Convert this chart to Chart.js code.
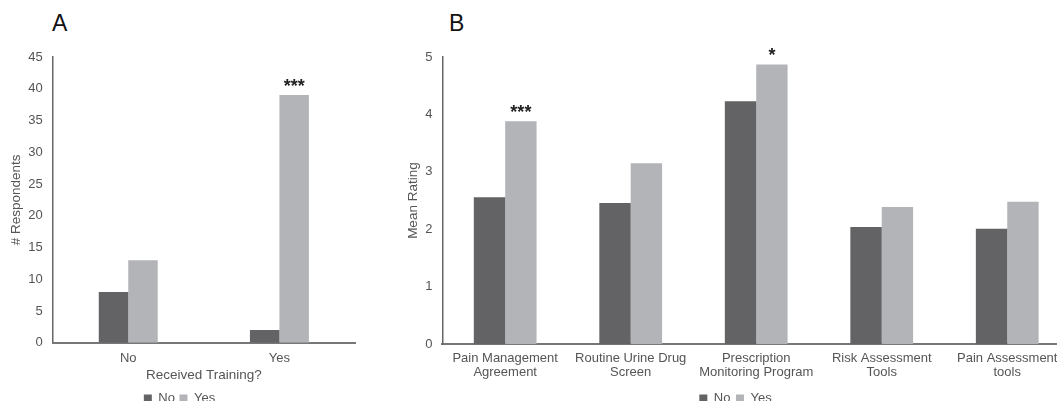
<!DOCTYPE html>
<html lang="en">
<head>
  <meta charset="UTF-8">
  <title>Training and tool ratings</title>
  <script src="https://cdn.jsdelivr.net/npm/chart.js@4/dist/chart.umd.min.js"></script>
  <style>
    html, body { margin: 0; padding: 0; background: #fff; overflow: hidden; width: 1057px; height: 401px; }
    .panel { position: absolute; top: 0; }
    .tag { position: absolute; top: 12px; font: 23px "Liberation Sans", Arial, sans-serif; line-height: 23px; color: #111; }
  </style>
</head>
<body>
  <div class="tag" style="left:52px">A</div>
  <div class="tag" style="left:449px">B</div>
  <canvas id="chartA" class="panel" style="left:0" width="392" height="415"></canvas>
  <canvas id="chartB" class="panel" style="left:380px" width="722" height="415"></canvas>
  <script>
    // Panel A: respondents by training
    const trainingLabels = ['No', 'Yes'];
    const trainingNo = [8, 2];
    const trainingYes = [13, 39];
    const trainingStars = [null, '***'];

    // Panel B: mean rating of each tool
    const toolLabels = [
      ['Pain Management', 'Agreement'],
      ['Routine Urine Drug', 'Screen'],
      ['Prescription', 'Monitoring Program'],
      ['Risk Assessment', 'Tools'],
      ['Pain Assessment', 'tools']
    ];
    const ratingNo = [2.56, 2.46, 4.23, 2.04, 2.01];
    const ratingYes = [3.88, 3.15, 4.87, 2.39, 2.48];
    const ratingStars = ['***', null, '*', null, null];

    const seriesNames = ['No', 'Yes'];
    const darkGrey = '#636366';
    const lightGrey = '#b3b4b8';
    const textGrey = '#555555';
    const fontFamily = '"Liberation Sans", Arial, sans-serif';

    // draw significance stars above the "Yes" bars
    const starsPlugin = {
      id: 'stars',
      afterDatasetsDraw(chart, args, opts) {
        const meta = chart.getDatasetMeta(1);
        const ctx = chart.ctx;
        ctx.save();
        ctx.font = 'bold 18px ' + fontFamily;
        ctx.fillStyle = '#222';
        ctx.textAlign = 'center';
        ctx.textBaseline = 'alphabetic';
        opts.marks.forEach((m, i) => {
          if (!m) return;
          const bar = meta.data[i];
          ctx.fillText(m, bar.x, bar.y - 3);
        });
        ctx.restore();
      }
    };

    function makeChart(id, labels, noVals, yesVals, stars, cfg) {
      return new Chart(document.getElementById(id), {
        type: 'bar',
        data: {
          labels: labels,
          datasets: [
            { label: seriesNames[0], data: noVals, backgroundColor: darkGrey,
              categoryPercentage: cfg.groupWidth, barPercentage: 1 },
            { label: seriesNames[1], data: yesVals, backgroundColor: lightGrey,
              categoryPercentage: cfg.groupWidth, barPercentage: 1 }
          ]
        },
        plugins: [starsPlugin],
        options: {
          responsive: false,
          animation: false,
          layout: { padding: cfg.padding },
          scales: {
            x: {
              grid: { display: false, drawTicks: false },
              border: { color: '#777', width: 2 },
              ticks: { color: textGrey, padding: cfg.tickPad, maxRotation: 0, autoSkip: false,
                font: { family: fontFamily, size: 13, lineHeight: cfg.tickLineHeight } },
              title: { display: !!cfg.xTitle, text: cfg.xTitle, color: textGrey,
                padding: { top: -7, bottom: 4 },
                font: { family: fontFamily, size: 13.5 } }
            },
            y: {
              min: 0, max: cfg.yMax,
              grid: { display: false, drawTicks: false },
              border: { color: '#666', width: 1.5 },
              ticks: { stepSize: cfg.yStep, color: textGrey, padding: 10,
                font: { family: fontFamily, size: 13 } },
              title: { display: true, text: cfg.yTitle, color: textGrey,
                padding: { top: 4, bottom: -6 },
                font: { family: fontFamily, size: 13.5 } }
            }
          },
          plugins: {
            stars: { marks: stars },
            tooltip: { enabled: false },
            legend: {
              position: 'bottom',
              labels: { boxWidth: 8, boxHeight: 8, padding: cfg.legendPad, color: textGrey,
                font: { family: fontFamily, size: 13 } }
            }
          }
        }
      });
    }

    makeChart('chartA', trainingLabels, trainingNo, trainingYes, trainingStars, {
      groupWidth: 0.39, yMax: 45, yStep: 5, yTitle: '# Respondents',
      xTitle: 'Received Training?', tickLineHeight: 1.2, tickPad: 8, legendPad: 4.5,
      padding: { top: 57, left: 4, right: 37, bottom: 0 }
    });

    makeChart('chartB', toolLabels, ratingNo, ratingYes, ratingStars, {
      groupWidth: 0.5, yMax: 5, yStep: 1, yTitle: 'Mean Rating',
      xTitle: '', tickLineHeight: 1.05, tickPad: 7.5, legendPad: 5.5,
      padding: { top: 57, left: 21, right: 32, bottom: 0 }
    });
  </script>
</body>
</html>
